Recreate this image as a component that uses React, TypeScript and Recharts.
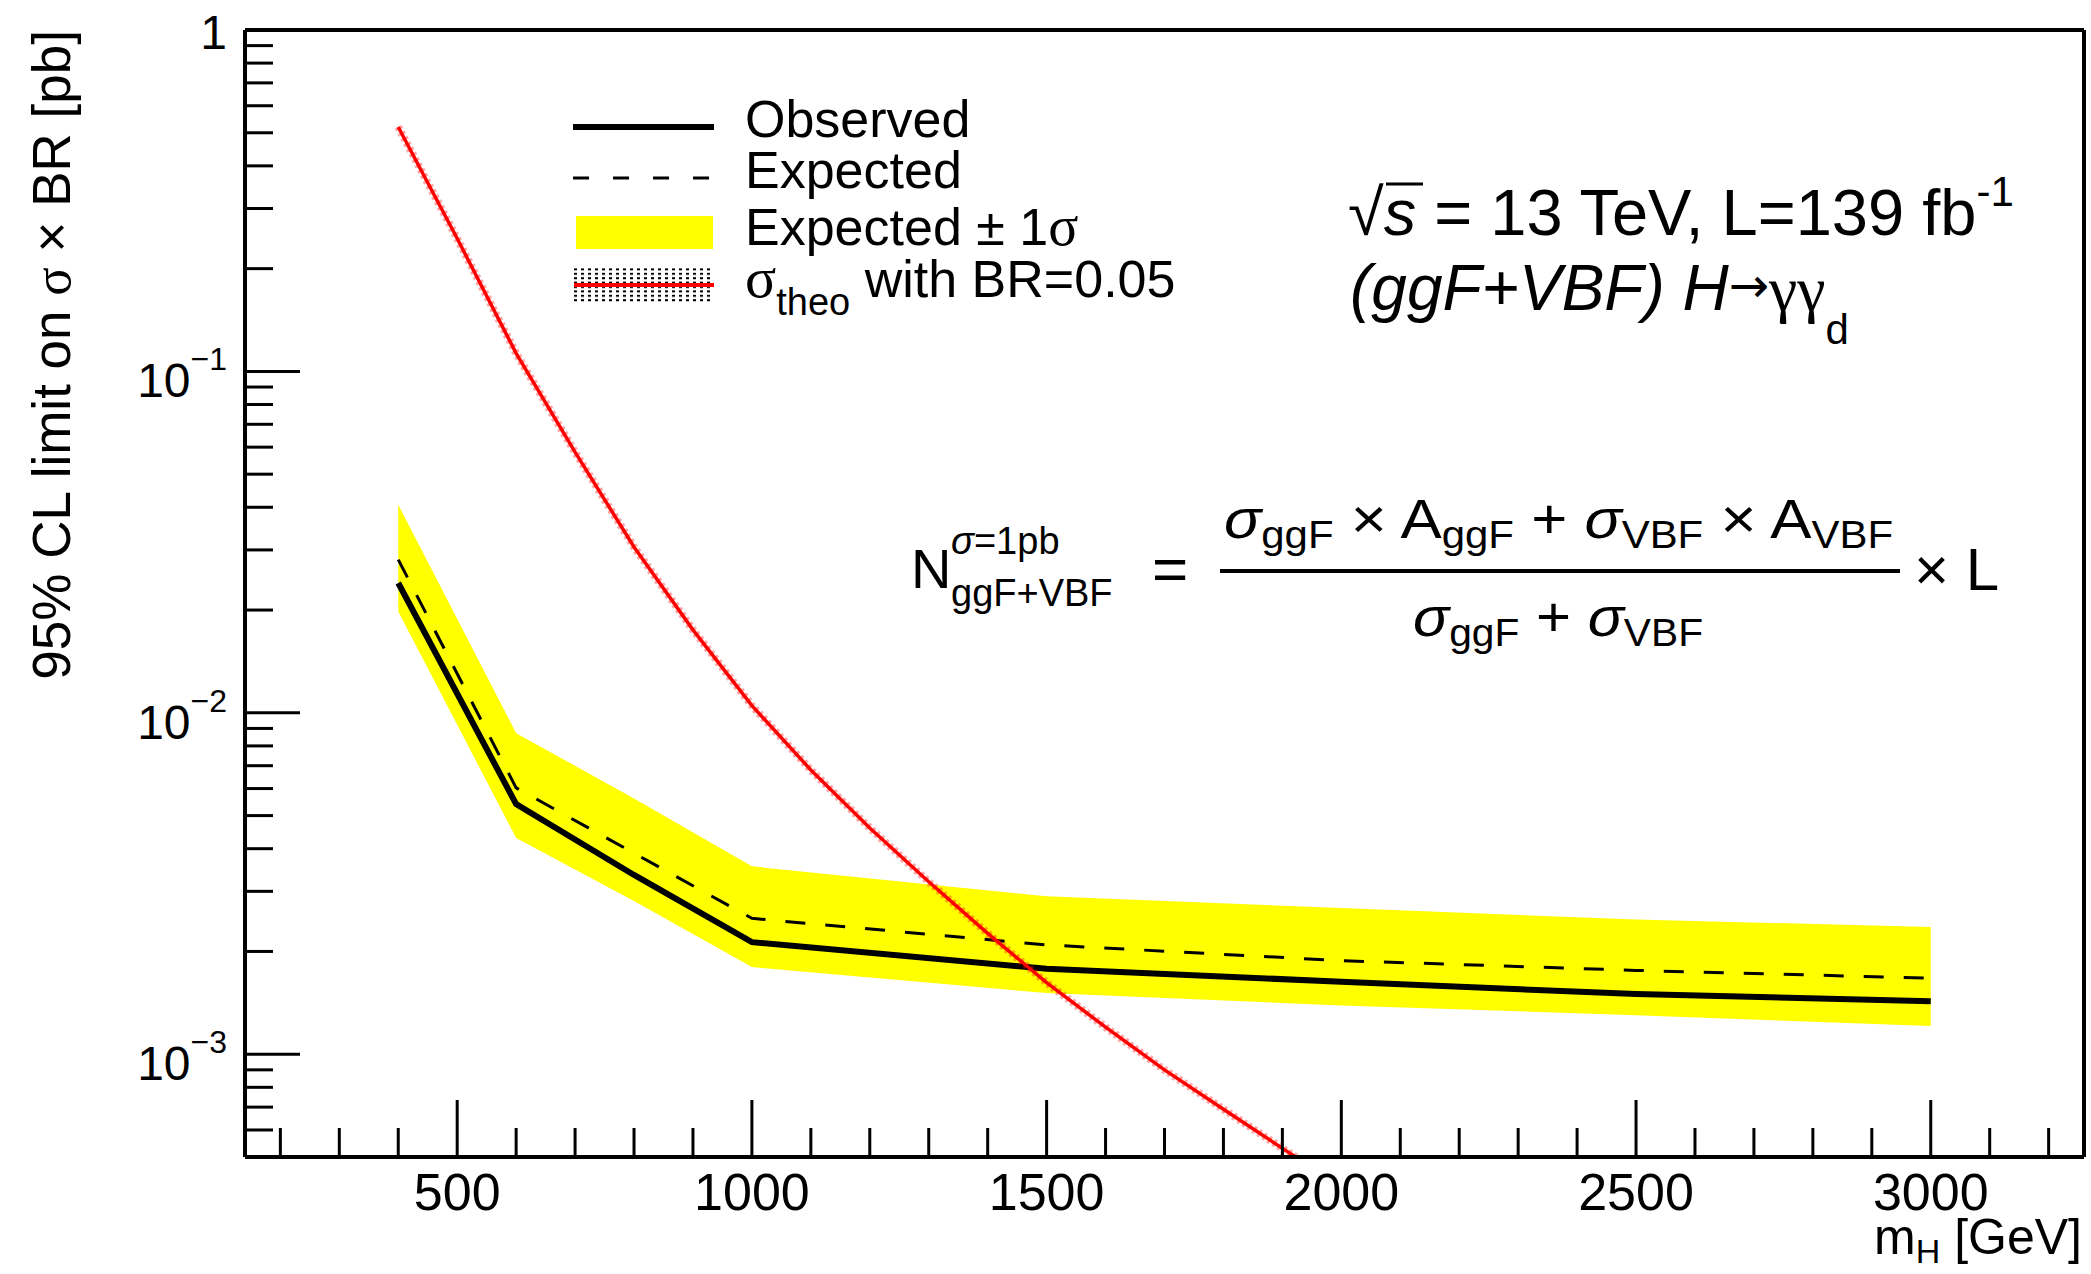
import React from 'react';
import { ComposedChart, Line, Area, XAxis, YAxis, ReferenceLine } from 'recharts';

// ---------------- data ----------------
const massPoints = [400, 600, 800, 1000, 1500, 2000, 2500, 3000];
const observedLimit = [0.024, 0.0054, 0.00335, 0.00213, 0.00178, 0.00163, 0.0015, 0.00143];
const expectedLimit = [0.0281, 0.00603, 0.00388, 0.0025, 0.00209, 0.00188, 0.00176, 0.00167];
const expectedMinus1s = [0.0198, 0.0043, 0.00281, 0.0018, 0.00151, 0.00139, 0.0013, 0.00121];
const expectedPlus1s = [0.0407, 0.00872, 0.00561, 0.00355, 0.0029, 0.00268, 0.00248, 0.00236];

const theoMasses = [400, 500, 600, 700, 800, 900, 1000, 1100, 1200, 1300, 1400, 1500, 1600, 1700, 1800, 1900, 2000];
const theoXsecBR = [0.52, 0.245, 0.113, 0.058, 0.0306, 0.0175, 0.0105, 0.0068, 0.0046, 0.0032, 0.00226, 0.00162, 0.0012, 0.0009, 0.00069, 0.00053, 0.00041];

const xTickValues = [200, 300, 400, 500, 600, 700, 800, 900, 1000, 1100, 1200, 1300, 1400, 1500, 1600, 1700, 1800, 1900, 2000, 2100, 2200, 2300, 2400, 2500, 2600, 2700, 2800, 2900, 3000, 3100, 3200];
const xMajorLabels = [500, 1000, 1500, 2000, 2500, 3000];
const yTickValues = [
  0.0005, 0.0006, 0.0007, 0.0008, 0.0009,
  0.001, 0.002, 0.003, 0.004, 0.005, 0.006, 0.007, 0.008, 0.009,
  0.01, 0.02, 0.03, 0.04, 0.05, 0.06, 0.07, 0.08, 0.09,
  0.1, 0.2, 0.3, 0.4, 0.5, 0.6, 0.7, 0.8, 0.9, 1,
];
const yMajorValues = [1, 0.1, 0.01, 0.001];
const yMajorExponents = [0, -1, -2, -3];

const X_DOMAIN: [number, number] = [140, 3260];
const Y_DOMAIN: [number, number] = [0.0005, 1];

// ---------------- table ----------------
const allX = Array.from(new Set([...massPoints, ...theoMasses])).sort((a, b) => a - b);
const table = allX.map((m) => {
  const i = massPoints.indexOf(m);
  const j = theoMasses.indexOf(m);
  return {
    m,
    obs: i >= 0 ? observedLimit[i] : null,
    exp: i >= 0 ? expectedLimit[i] : null,
    band: i >= 0 ? [expectedMinus1s[i], expectedPlus1s[i]] : null,
    theo: j >= 0 ? theoXsecBR[j] : null,
  };
});

const FONT = "'Liberation Sans', Arial, Helvetica, sans-serif";
const SERIF = "'Liberation Serif', 'Times New Roman', serif";

const XTick = (props: any) => {
  const { x, y, payload } = props;
  const v = payload.value;
  const major = xMajorLabels.indexOf(v) >= 0;
  return (
    <g>
      <line x1={x} x2={x} y1={y} y2={y - (major ? 57 : 29)} stroke="#000" strokeWidth={3} />
      {major && (
        <text x={x} y={y + 53} textAnchor="middle" fontSize={52} fontFamily={FONT} fill="#000">
          {v}
        </text>
      )}
    </g>
  );
};

const YTick = (props: any) => {
  const { x, y, payload } = props;
  const v = payload.value;
  const k = yMajorValues.findIndex((mv) => Math.abs(mv - v) / mv < 1e-6);
  const major = k >= 0;
  let label: React.ReactNode = null;
  if (major) {
    const e = yMajorExponents[k];
    if (e === 0) {
      label = (
        <text x={x - 18} y={y + 19} textAnchor="end" fontSize={48} fontFamily={FONT} fill="#000">
          1
        </text>
      );
    } else {
      label = (
        <text x={x - 18} y={y + 26} textAnchor="end" fontSize={48} fontFamily={FONT} fill="#000">
          10
          <tspan dy={-27} fontSize={32}>{'\u2212' + String(-e)}</tspan>
        </text>
      );
    }
  }
  return (
    <g>
      <line x1={x} x2={x + (major ? 55 : 28)} y1={y} y2={y} stroke="#000" strokeWidth={3} />
      {label}
    </g>
  );
};

const Overlay = () => (
  <svg
    width={2091}
    height={1274}
    style={{ position: 'absolute', left: 0, top: 0, pointerEvents: 'none' }}
    fontFamily={FONT}
  >
    <defs>
      <pattern id="dots" width={7} height={4.4} patternUnits="userSpaceOnUse">
        <rect x={0} y={0} width={3} height={2} fill="#000" />
      </pattern>
    </defs>
    {/* Y axis title */}
    <text transform="translate(70,30) rotate(-90)" textAnchor="end" fontSize={53} fill="#000">
      95% CL limit on <tspan fontFamily={SERIF}>σ</tspan> × BR [pb]
    </text>
    {/* X axis title */}
    <text x={2082} y={1254} textAnchor="end" fontSize={50} fill="#000">
      m<tspan fontSize={34} dy={9}>H</tspan>
      <tspan dy={-9}> [GeV]</tspan>
    </text>

    {/* Legend */}
    <line x1={573} x2={714} y1={127} y2={127} stroke="#000" strokeWidth={6} />
    <text x={745} y={137} fontSize={52}>Observed</text>
    <line x1={573} x2={714} y1={178} y2={178} stroke="#000" strokeWidth={3} strokeDasharray="16 24" />
    <text x={745} y={188} fontSize={52}>Expected</text>
    <rect x={576} y={216} width={137} height={33} fill="#ffff00" />
    <text x={745} y={245} fontSize={52}>
      Expected ± 1<tspan fontFamily={SERIF} fontSize={56}>σ</tspan>
    </text>
    <rect x={574} y={268} width={140} height={35} fill="url(#dots)" />
    <line x1={574} x2={714} y1={285} y2={285} stroke="#ff0000" strokeWidth={4} />
    <text x={745} y={297} fontSize={52}>
      <tspan fontFamily={SERIF} fontSize={58}>σ</tspan>
      <tspan fontSize={38} dy={18}>theo</tspan>
      <tspan dy={-18}> with BR=0.05</tspan>
    </text>

    {/* Top-right labels */}
    <text x={1348} y={235} fontSize={65}>
      √<tspan fontStyle="italic">s</tspan> = 13 TeV, L=139 fb<tspan fontSize={42} dy={-29}>-1</tspan>
    </text>
    <line x1={1386} x2={1423} y1={184} y2={184} stroke="#000" strokeWidth={3} />
    <text x={1350} y={310} fontSize={64}>
      <tspan fontStyle="italic">(ggF+VBF) H</tspan>
      <tspan fontFamily="'DejaVu Sans', sans-serif" fontSize={48} dy={-8}>→</tspan>
      <tspan fontFamily={SERIF} fontSize={64} dy={8}>γγ</tspan>
      <tspan fontSize={42} dy={34}>d</tspan>
    </text>

    {/* Formula */}
    <text x={911} y={588} fontSize={56}>N</text>
    <text x={951} y={554} fontSize={38}>
      <tspan fontStyle="italic">σ</tspan>=1pb
    </text>
    <text x={951} y={606} fontSize={38}>ggF+VBF</text>
    <text x={1152} y={590} fontSize={62}>=</text>
    <line x1={1220} x2={1900} y1={571} y2={571} stroke="#000" strokeWidth={4} />
    <text x={1224} y={538} fontSize={56} textLength={669} lengthAdjust="spacingAndGlyphs">
      <tspan fontStyle="italic">σ</tspan>
      <tspan fontSize={38} dy={10}>ggF</tspan>
      <tspan dy={-10}> × A</tspan>
      <tspan fontSize={38} dy={10}>ggF</tspan>
      <tspan dy={-10}> + </tspan>
      <tspan fontStyle="italic">σ</tspan>
      <tspan fontSize={38} dy={10}>VBF</tspan>
      <tspan dy={-10}> × A</tspan>
      <tspan fontSize={38} dy={10}>VBF</tspan>
    </text>
    <text x={1413} y={636} fontSize={56} textLength={290} lengthAdjust="spacingAndGlyphs">
      <tspan fontStyle="italic">σ</tspan>
      <tspan fontSize={38} dy={10}>ggF</tspan>
      <tspan dy={-10}> + </tspan>
      <tspan fontStyle="italic">σ</tspan>
      <tspan fontSize={38} dy={10}>VBF</tspan>
    </text>
    <text x={1914} y={590} fontSize={60}>× L</text>
  </svg>
);

export default function App() {
  return (
    <div style={{ position: 'absolute', left: 0, top: 0, width: 2091, height: 1274, background: '#fff', overflow: 'hidden' }}>
      <ComposedChart
        width={2091}
        height={1274}
        data={table}
        margin={{ top: 30, right: 7, bottom: 0, left: 0 }}
      >
        <XAxis
          dataKey="m"
          type="number"
          domain={X_DOMAIN}
          allowDataOverflow
          ticks={xTickValues}
          interval={0}
          height={117}
          tickSize={0}
          tickMargin={0}
          tickLine={false}
          axisLine={{ stroke: '#000', strokeWidth: 4 }}
          tick={<XTick />}
        />
        <YAxis
          type="number"
          scale="log"
          domain={Y_DOMAIN}
          allowDataOverflow
          ticks={yTickValues}
          interval={0}
          width={245}
          tickSize={0}
          tickMargin={0}
          tickLine={false}
          axisLine={{ stroke: '#000', strokeWidth: 4 }}
          tick={<YTick />}
        />
        <Area
          dataKey="band"
          type="linear"
          stroke="none"
          fill="#ffff00"
          fillOpacity={1}
          connectNulls
          isAnimationActive={false}
          dot={false}
          activeDot={false}
        />
        <Line
          dataKey="exp"
          type="linear"
          stroke="#000"
          strokeWidth={3}
          strokeDasharray="20 20"
          dot={false}
          activeDot={false}
          connectNulls
          isAnimationActive={false}
        />
        <Line
          dataKey="obs"
          type="linear"
          stroke="#000"
          strokeWidth={6}
          dot={false}
          activeDot={false}
          connectNulls
          isAnimationActive={false}
        />
        <Line
          dataKey="theo"
          type="linear"
          stroke="#ff0000"
          strokeOpacity={0.35}
          strokeWidth={8}
          strokeDasharray="3 3"
          dot={false}
          activeDot={false}
          connectNulls
          isAnimationActive={false}
          legendType="none"
        />
        <Line
          dataKey="theo"
          type="linear"
          stroke="#ff0000"
          strokeWidth={3.5}
          dot={false}
          activeDot={false}
          connectNulls
          isAnimationActive={false}
        />
        <ReferenceLine y={1} stroke="#000" strokeWidth={4} />
        <ReferenceLine x={3260} stroke="#000" strokeWidth={4} />
      </ComposedChart>
      <Overlay />
    </div>
  );
}
